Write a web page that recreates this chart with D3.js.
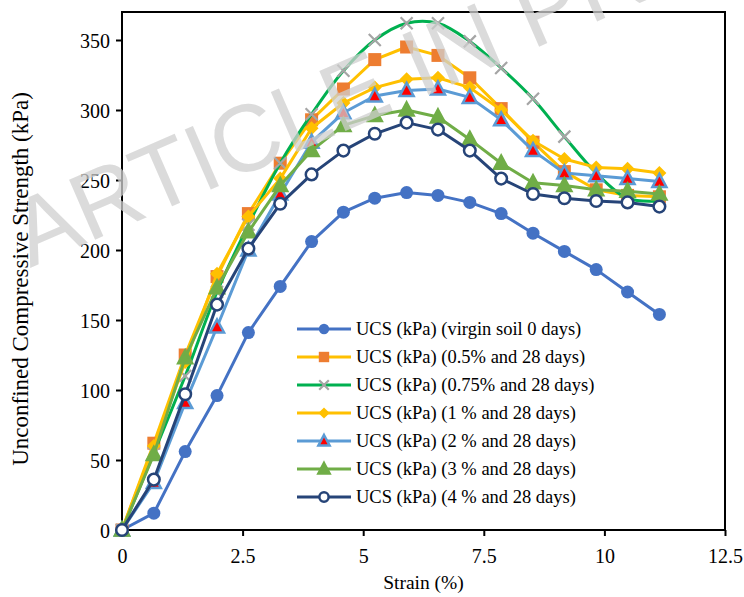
<!DOCTYPE html>
<html><head><meta charset="utf-8">
<script src="https://cdn.jsdelivr.net/npm/d3@7"></script>
<style>body{margin:0;background:#fff} svg{display:block} .serif{font-family:"Liberation Serif","Times New Roman",Times,serif}</style>
</head><body><svg id="c" width="744" height="597"></svg>
<script>
// ---- data ----
const strain = [0, 0.66, 1.31, 1.97, 2.62, 3.28, 3.93, 4.59, 5.24, 5.90, 6.55, 7.21, 7.86, 8.52, 9.17, 9.83, 10.48, 11.14];
const seriesNames = [
  "UCS (kPa) (virgin soil 0 days)",
  "UCS (kPa) (0.5% and 28 days)",
  "UCS (kPa) (0.75% and 28 days)",
  "UCS (kPa) (1 % and 28 days)",
  "UCS (kPa) (2 % and 28 days)",
  "UCS (kPa) (3 % and 28 days)",
  "UCS (kPa) (4 % and 28 days)"
];
const ucsVirgin = [0, 12, 56, 96, 141, 174, 206, 227, 237, 241, 239, 234, 226, 212, 199, 186, 170, 154];
const ucs05     = [0, 62, 125, 181, 226, 262, 293, 315, 336, 345, 339, 323, 301, 277, 256, 243, 239, 238];
const ucs075    = [0, 55, 110, 170, 218, 262, 297, 328, 350, 362, 362, 349, 330, 308, 281, 255, 237, 235];
const ucs1      = [0, 60, 120, 183, 224, 251, 287, 305, 316, 322, 323, 316, 300, 278, 265, 259, 258, 255];
const ucs2      = [0, 34, 91, 145, 200, 240, 277, 298, 310, 314, 315, 309, 293, 271, 255, 253, 251, 249];
const ucs3      = [0, 54, 123, 173, 213, 246, 271, 289, 296, 300, 295, 279, 262, 248, 246, 243, 242, 240];
const ucs4      = [0, 36, 97, 161, 201, 233, 254, 271, 283, 291, 286, 271, 251, 240, 237, 235, 234, 231];
const xTicks = [0, 2.5, 5, 7.5, 10, 12.5];
const yTicks = [0, 50, 100, 150, 200, 250, 300, 350];
const xTitle = "Strain (%)";
const yTitle = "Unconfined Compressive Strength (kPa)";
const watermark = "ARTICLE IN PRESS";

// ---- styles ----
const styles = [
  {line:"#4472C4", marker:"circle",  fill:"#4472C4", stroke:"#4472C4"},
  {line:"#FFC000", marker:"square",  fill:"#ED7D31", stroke:"#ED7D31"},
  {line:"#00B050", marker:"cross",   fill:"none",    stroke:"#A5A5A5", smooth:true},
  {line:"#FFC000", marker:"diamond", fill:"#FFC000", stroke:"#FFC000"},
  {line:"#5B9BD5", marker:"triangle",fill:"#FF0000", stroke:"#5B9BD5"},
  {line:"#70AD47", marker:"triangle",fill:"#70AD47", stroke:"#70AD47"},
  {line:"#264478", marker:"ocircle", fill:"#ffffff", stroke:"#264478"}
];
const allSeries = [ucsVirgin, ucs05, ucs075, ucs1, ucs2, ucs3, ucs4];

const svg = d3.select("#c");
const L = 122, R = 725, T = 12, B = 530;
const x = d3.scaleLinear().domain([0, 12.5]).range([L, R]);
const y = d3.scaleLinear().domain([0, 370]).range([B, T]);

// axes
const gx = svg.append("g").attr("transform", `translate(0,${B})`)
  .call(d3.axisBottom(x).tickValues(xTicks).tickSize(6).tickSizeOuter(0).tickPadding(13).tickFormat(d3.format("")));
const gy = svg.append("g").attr("transform", `translate(${L},0)`)
  .call(d3.axisLeft(y).tickValues(yTicks).tickSize(6).tickSizeOuter(0).tickPadding(6));
[gx, gy].forEach(g => {
  g.attr("font-family", null).attr("font-size", null);
  g.select(".domain").remove();
  g.selectAll("line").attr("stroke", "#000").attr("stroke-width", 2);
  g.selectAll("text").attr("class", "serif").style("font-size", "20px").attr("fill", "#000");
});
gy.selectAll("text").attr("dy", "0.35em");
// frame
svg.append("rect").attr("x", L).attr("y", T).attr("width", R - L).attr("height", B - T)
  .attr("fill", "none").attr("stroke", "#000").attr("stroke-width", 2);

// titles
svg.append("text").attr("class", "serif").attr("x", (L + R) / 2).attr("y", 589).attr("text-anchor", "middle")
  .style("font-size", "19.5px").text(xTitle);
svg.append("text").attr("class", "serif").attr("transform", "translate(28,279) rotate(-90)").attr("text-anchor", "middle")
  .style("font-size", "23px").text(yTitle);

// marker drawer
function marker(g, type, cx, cy, st, s) {
  const k = s || 1;
  if (type === "circle") g.append("circle").attr("cx", cx).attr("cy", cy).attr("r", 6.5*k).attr("fill", st.fill);
  else if (type === "ocircle") g.append("circle").attr("cx", cx).attr("cy", cy).attr("r", 5.8*k).attr("fill", st.fill).attr("stroke", st.stroke).attr("stroke-width", 2.5);
  else if (type === "square") g.append("rect").attr("x", cx - 6.5*k).attr("y", cy - 6.5*k).attr("width", 13*k).attr("height", 13*k).attr("fill", st.fill);
  else if (type === "diamond") g.append("path").attr("d", `M${cx},${cy-7*k}L${cx+7*k},${cy}L${cx},${cy+7*k}L${cx-7*k},${cy}Z`).attr("fill", st.fill);
  else if (type === "cross") g.append("path").attr("d", `M${cx-6*k},${cy-6*k}L${cx+6*k},${cy+6*k}M${cx-6*k},${cy+6*k}L${cx+6*k},${cy-6*k}`).attr("stroke", st.stroke).attr("stroke-width", 2.2).attr("fill", "none");
  else if (type === "triangle") g.append("path").attr("d", `M${cx},${cy-7.5*k}L${cx+7*k},${cy+5.5*k}L${cx-7*k},${cy+5.5*k}Z`).attr("fill", st.fill).attr("stroke", st.stroke).attr("stroke-width", 2.5).attr("stroke-linejoin", "miter");
}

// series
allSeries.forEach((vals, i) => {
  const st = styles[i];
  const g = svg.append("g");
  const pts = strain.map((s, j) => [s, vals[j]]);
  const line = d3.line().x(d => x(d[0])).y(d => y(d[1])).curve(st.smooth ? d3.curveCatmullRom.alpha(0.5) : d3.curveLinear);
  g.append("path").attr("d", line(pts)).attr("fill", "none").attr("stroke", st.line).attr("stroke-width", 3).attr("stroke-linejoin", "round");
  pts.forEach(p => marker(g, st.marker, x(p[0]), y(p[1]), st));
});

// legend
const lg = svg.append("g");
seriesNames.forEach((name, i) => {
  const st = styles[i];
  const cy = 329 + i * 28;
  lg.append("line").attr("x1", 297).attr("x2", 351).attr("y1", cy).attr("y2", cy).attr("stroke", st.line).attr("stroke-width", 3);
  marker(lg, st.marker, 324, cy, st, 0.8);
  lg.append("text").attr("class", "serif").attr("x", 356).attr("y", cy + 6).style("font-size", "18.5px").text(name);
});

// watermark
svg.append("text").attr("transform", "translate(30,268) rotate(-23.5)")
  .style("font-family", "'Liberation Sans',Arial,sans-serif").style("font-size", "95px")
  .attr("fill", "#cfcfcf").attr("fill-opacity", 0.75).text(watermark);
</script></body></html>
